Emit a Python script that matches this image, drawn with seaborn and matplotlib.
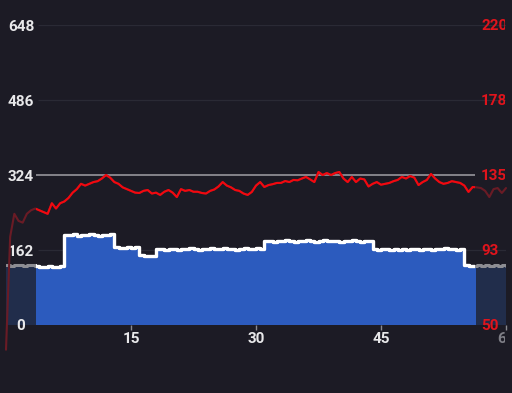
import matplotlib
matplotlib.use("Agg")
import matplotlib.pyplot as plt
from matplotlib.patches import Rectangle
from matplotlib.transforms import Bbox, TransformedBbox
import numpy as np
import pandas as pd
import seaborn as sns

# sample times, every half second over the minute
seconds = np.arange(0, 60.5, 0.5)

# power on the left axis
power = [
    129, 128, 130, 129, 128, 130, 129, 127, 126, 125,
    127, 126, 125, 127, 195, 194, 196, 193, 195, 194,
    196, 195, 193, 195, 194, 197, 168, 166, 167, 168,
    167, 169, 151, 149, 150, 148, 164, 165, 163, 165,
    164, 163, 165, 164, 166, 164, 163, 165, 164, 166,
    165, 164, 166, 165, 164, 163, 165, 166, 164, 165,
    166, 164, 181, 182, 180, 182, 181, 183, 181, 180,
    182, 181, 183, 182, 180, 181, 183, 182, 181, 182,
    180, 182, 181, 183, 181, 180, 182, 181, 165, 163,
    164, 165, 163, 164, 162, 164, 163, 165, 164, 163,
    164, 165, 163, 164, 165, 166, 164, 165, 163, 164,
    130, 128, 127, 129, 128, 130, 128, 129, 127, 129,
    128,
]

# temperature on the right axis
temp = [
    36, 100, 113, 109, 108, 113, 115, 116, 115, 114,
    113, 119, 116, 119, 120, 122, 125, 127, 130, 129,
    130, 131, 131.5, 133, 135, 133.5, 131, 130, 128, 127,
    126, 125, 124.8, 126, 126.5, 124.5, 125, 123.7, 125.5, 126.5,
    125, 122.5, 127, 126, 126.5, 125.5, 125.5, 124.8, 124.5, 126,
    126.8, 128.5, 131, 129, 128, 126.5, 126, 124.5, 123.7, 125.4,
    129, 131, 128.2, 129.3, 129.8, 130.5, 130.5, 131.6, 131, 132.2,
    132, 133, 133.9, 132.5, 131, 136.7, 135, 136.1, 135, 136.1,
    136.7, 133, 131, 133.9, 131, 133, 132.5, 128.5, 130, 131,
    129.5, 130, 130.5, 131.5, 132.2, 133.9, 133, 134.4, 133.5, 129.3,
    131, 132.2, 135.6, 133, 131, 130, 130.5, 131.5, 131, 130.5,
    129, 125.4, 128.2, 128, 127.6, 126, 122.5, 127, 127.6, 124.8,
    127.6,
]

active_start, active_end = 3.6, 56.3
ref_level = 324

left_ticks = [0, 162, 324, 486, 648]
right_ticks = [50, 92.5, 135, 177.5, 220]
right_labels = ["50", "93", "135", "178", "220"]
x_ticks = [15, 30, 45, 60]
x_labels = ["15", "30", "45", "60"]

BG = "#1c1b25"
BLUE = "#2c5bbe"
DIM_BLUE = "#212d4b"
RED = "#f2080f"
DIM_RED = "#6a1b25"
GRAY = "#8d8d93"


def window(axis):
    return Rectangle((active_start, -1000), active_end - active_start, 3000,
                     transform=axis.transData)


def main():
    sns.set_theme(style="dark", rc={"axes.facecolor": BG, "figure.facecolor": BG})
    plt.rcParams["font.family"] = ["Roboto", "DejaVu Sans"]

    df = pd.DataFrame({"t": seconds, "power": power, "temp": temp})

    fig = plt.figure(figsize=(5.12, 3.93), dpi=100)
    ax = fig.add_axes([6 / 512, 68 / 393, 500 / 512, 300 / 393])
    ax.set_xlim(0, 60)
    ax.set_ylim(0, 648)
    ax.set_axisbelow(False)

    # faint grid, brighter reference line inside the active window
    ax.hlines([162, 486, 648], 3.8, 60, color="#2a2a35", lw=0.9, zorder=0.5)
    ax.hlines(ref_level, active_start, active_end, color="#a0a0a6", lw=1.1, zorder=0.6)

    ax.fill_between(seconds, power, step="post", color=DIM_BLUE, lw=0, zorder=1)
    bright = ax.fill_between(seconds, power, step="post", color=BLUE, lw=0, zorder=2)
    bright.set_clip_path(window(ax))

    sns.lineplot(data=df, x="t", y="power", ax=ax, color=GRAY, lw=2.2,
                 drawstyle="steps-post", estimator=None, zorder=3)
    sns.lineplot(data=df, x="t", y="power", ax=ax, color="white", lw=2.4,
                 drawstyle="steps-post", estimator=None, zorder=4)
    ax.lines[-1].set_clip_path(window(ax))

    ax2 = ax.twinx()
    ax2.set_ylim(50, 220)
    sns.lineplot(data=df, x="t", y="temp", ax=ax2, color=DIM_RED, lw=1.5,
                 estimator=None, clip_on=False)
    sns.lineplot(data=df, x="t", y="temp", ax=ax2, color=RED, lw=1.5,
                 estimator=None)
    ax2.lines[-1].set_clip_path(window(ax2))

    for a in (ax, ax2):
        a.set(xlabel="", ylabel="")
        for s in a.spines.values():
            s.set_visible(False)

    # left labels sit inside the plot, centred about 15 px from its edge
    ax.set_yticks(left_ticks, [str(v) for v in left_ticks])
    ax.tick_params(axis="y", length=0, pad=-10.8, labelsize=11, labelcolor="#e8e8ea")
    for t in ax.get_yticklabels():
        t.set_ha("center")
        t.set_fontweight("bold")

    ax2.set_yticks(right_ticks, right_labels)
    ax2.tick_params(axis="y", length=0, pad=-18, labelsize=11, labelcolor="#e0141c")
    for t in ax2.get_yticklabels():
        t.set_fontweight("bold")

    ax.set_xticks(x_ticks, x_labels)
    ax.tick_params(axis="x", length=3.6, width=1, color="#8a8a90", pad=1.5,
                   labelsize=11, labelcolor="#e8e8ea", bottom=True)
    xl = ax.get_xticklabels()
    for t in xl:
        t.set_fontweight("bold")
    xl[-1].set_color("#7e7e86")

    # the chart is cut at the right edge of the screen
    cut = TransformedBbox(Bbox([[0, 0], [505 / 512, 1]]), fig.transFigure)
    for t in list(ax2.get_yticklabels()) + list(xl):
        t.set_clip_box(cut)
        t.set_clip_on(True)

    fig.savefig("out.png", dpi=100, facecolor=BG)
    plt.close(fig)


if __name__ == "__main__":
    main()
